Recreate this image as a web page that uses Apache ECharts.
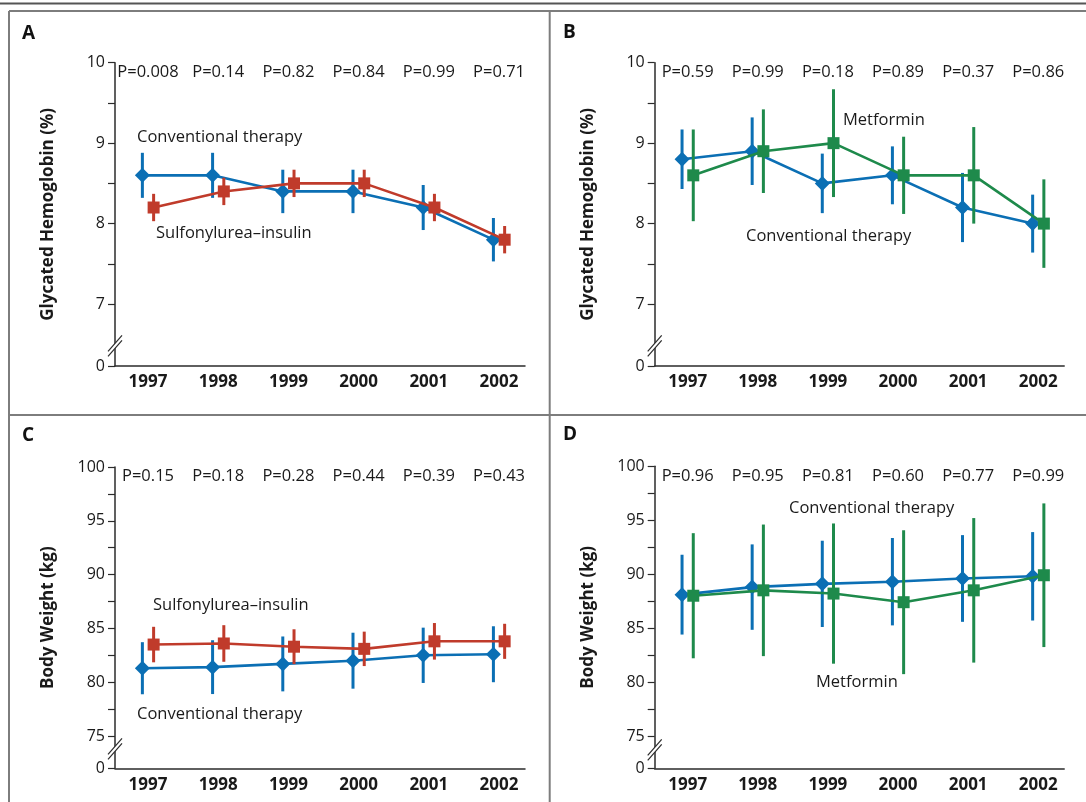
<!DOCTYPE html>
<html>
<head>
<meta charset="utf-8">
<script src="https://cdn.jsdelivr.net/npm/echarts@6/dist/echarts.min.js"></script>
<style>
  html, body { margin: 0; padding: 0; background: #fff; }
  #chart { width: 1086px; height: 802px; }
</style>
</head>
<body>
<div id="chart"></div>
<script>
// data
const years = [1997, 1998, 1999, 2000, 2001, 2002];

const pA = ['P=0.008', 'P=0.14', 'P=0.82', 'P=0.84', 'P=0.99', 'P=0.71'];
const pB = ['P=0.59', 'P=0.99', 'P=0.18', 'P=0.89', 'P=0.37', 'P=0.86'];
const pC = ['P=0.15', 'P=0.18', 'P=0.28', 'P=0.44', 'P=0.39', 'P=0.43'];
const pD = ['P=0.96', 'P=0.95', 'P=0.81', 'P=0.60', 'P=0.77', 'P=0.99'];

// glycated hemoglobin (%) - mean and half-width of bar
const hbA_conv = [8.6, 8.6, 8.4, 8.4, 8.2, 7.8];
const hbA_convErr = [0.28, 0.28, 0.27, 0.27, 0.28, 0.27];
const hbA_su = [8.2, 8.4, 8.5, 8.5, 8.2, 7.8];
const hbA_suErr = [0.17, 0.17, 0.17, 0.17, 0.17, 0.17];

const hbB_conv = [8.8, 8.9, 8.5, 8.6, 8.2, 8.0];
const hbB_convErr = [0.37, 0.42, 0.37, 0.36, 0.43, 0.36];
const hbB_met = [8.6, 8.9, 9.0, 8.6, 8.6, 8.0];
const hbB_metErr = [0.57, 0.52, 0.67, 0.48, 0.6, 0.55];

// body weight (kg)
const wtC_conv = [81.3, 81.4, 81.7, 82.0, 82.5, 82.6];
const wtC_convErr = [2.42, 2.5, 2.55, 2.6, 2.57, 2.6];
const wtC_su = [83.5, 83.6, 83.3, 83.1, 83.8, 83.8];
const wtC_suErr = [1.65, 1.7, 1.62, 1.6, 1.7, 1.63];

const wtD_conv = [88.1, 88.8, 89.1, 89.3, 89.6, 89.8];
const wtD_convErr = [3.7, 3.96, 4.0, 4.05, 4.02, 4.1];
const wtD_met = [88.0, 88.5, 88.2, 87.4, 88.5, 89.9];
const wtD_metErr = [5.8, 6.1, 6.5, 6.67, 6.7, 6.66];

// axis ticks / labels
const hbTicks = [7, 7.5, 8, 8.5, 9, 9.5, 10];
const hbLabels = [7, 8, 9, 10];
const wtTicks = [75, 77.5, 80, 82.5, 85, 87.5, 90, 92.5, 95, 97.5, 100];
const wtLabels = [75, 80, 85, 90, 95, 100];

const BLUE = '#0b6fb4';
const RED = '#c03b2b';
const GREEN = '#1e8a4b';
const FONT = 'Open Sans';
const FRAME = '#7d7d7d';
const X_MIN = 1996.53, X_MAX = 2002.37, OFF = 0.08;

const panels = [
  { letter: 'A', lx: 22, ly: 34,
    grid: { left: 115, top: 62.7, width: 410, height: 303.3 },
    yMin: 6.23, yMax: 10, ticks: hbTicks, labels: hbLabels, brk: 6.48,
    yName: 'Glycated Hemoglobin (%)', p: pA,
    lines: [
      { vals: hbA_conv, err: hbA_convErr, color: BLUE, sym: 'diamond', size: [15, 15], off: -OFF },
      { vals: hbA_su, err: hbA_suErr, color: RED, sym: 'rect', size: [12, 12], off: OFF }
    ],
    notes: [['Conventional therapy', 137, 137], ['Sulfonylurea\u2013insulin', 156, 233]] },
  { letter: 'B', lx: 563, ly: 33,
    grid: { left: 654.7, top: 62.7, width: 409.5, height: 303.3 },
    yMin: 6.23, yMax: 10, ticks: hbTicks, labels: hbLabels, brk: 6.48,
    yName: 'Glycated Hemoglobin (%)', p: pB,
    lines: [
      { vals: hbB_conv, err: hbB_convErr, color: BLUE, sym: 'diamond', size: [15, 15], off: -OFF },
      { vals: hbB_met, err: hbB_metErr, color: GREEN, sym: 'rect', size: [12, 12], off: OFF }
    ],
    notes: [['Metformin', 843, 120], ['Conventional therapy', 746, 236]] },
  { letter: 'C', lx: 22, ly: 436,
    grid: { left: 115, top: 467, width: 410, height: 301.3 },
    yMin: 72, yMax: 100, ticks: wtTicks, labels: wtLabels, brk: 73.8,
    yName: 'Body Weight (kg)', p: pC,
    lines: [
      { vals: wtC_conv, err: wtC_convErr, color: BLUE, sym: 'diamond', size: [15, 15], off: -OFF },
      { vals: wtC_su, err: wtC_suErr, color: RED, sym: 'rect', size: [12, 12], off: OFF }
    ],
    notes: [['Sulfonylurea\u2013insulin', 153, 605], ['Conventional therapy', 137, 714]] },
  { letter: 'D', lx: 563, ly: 435,
    grid: { left: 654.7, top: 466.3, width: 409.5, height: 302 },
    yMin: 72, yMax: 100, ticks: wtTicks, labels: wtLabels, brk: 73.7,
    yName: 'Body Weight (kg)', p: pD,
    lines: [
      { vals: wtD_conv, err: wtD_convErr, color: BLUE, sym: 'diamond', size: [15, 15], off: -OFF },
      { vals: wtD_met, err: wtD_metErr, color: GREEN, sym: 'rect', size: [12, 12], off: OFF }
    ],
    notes: [['Conventional therapy', 789, 508], ['Metformin', 816, 682]] }
];

const grid = [], xAxis = [], yAxis = [], series = [];

panels.forEach((pn, i) => {
  grid.push(pn.grid);
  xAxis.push({
    type: 'value', gridIndex: i, min: X_MIN, max: X_MAX, position: 'bottom',
    axisLine: { onZero: false, lineStyle: { color: '#2b2b2b', width: 1.5 } },
    axisTick: { show: false }, splitLine: { show: false },
    axisLabel: { customValues: years, formatter: v => String(v), margin: 8,
      fontFamily: FONT, fontWeight: 'bold', fontSize: 17, color: '#1a1a1a' }
  });
  xAxis.push({
    type: 'value', gridIndex: i, min: X_MIN, max: X_MAX, position: 'top',
    axisLine: { show: false }, axisTick: { show: false }, splitLine: { show: false },
    axisLabel: { inside: true, margin: 1, customValues: years,
      formatter: v => pn.p[years.indexOf(Math.round(v))],
      fontFamily: FONT, fontSize: 16.5, color: '#1a1a1a' }
  });
  yAxis.push({
    type: 'value', gridIndex: i, min: pn.yMin, max: pn.yMax,
    name: pn.yName, nameLocation: 'middle', nameGap: 58,
    nameTextStyle: { fontFamily: FONT, fontWeight: 'bold', fontSize: 17, color: '#1a1a1a' },
    axisLine: { show: true, onZero: false, lineStyle: { color: '#2b2b2b', width: 1.5 } },
    axisTick: { show: true, length: 7, customValues: [pn.yMin].concat(pn.ticks),
      lineStyle: { color: '#2b2b2b', width: 1.2 } },
    axisLabel: { customValues: [pn.yMin].concat(pn.labels), margin: 10,
      formatter: v => (v === pn.yMin ? '0' : String(v)),
      fontFamily: FONT, fontSize: 16, color: '#1a1a1a' },
    splitLine: { show: false }
  });

  pn.lines.forEach((ln, k) => {
    series.push({
      type: 'custom', xAxisIndex: 2 * i, yAxisIndex: i, z: 2 + k * 2, silent: true,
      data: years.map((yr, j) => [yr + ln.off, ln.vals[j] - ln.err[j], ln.vals[j] + ln.err[j]]),
      renderItem: (params, api) => {
        const lo = api.coord([api.value(0), api.value(1)]);
        const hi = api.coord([api.value(0), api.value(2)]);
        return { type: 'line', shape: { x1: lo[0], y1: lo[1], x2: hi[0], y2: hi[1] },
          style: { stroke: ln.color, lineWidth: 3 } };
      }
    });
    series.push({
      type: 'line', xAxisIndex: 2 * i, yAxisIndex: i, z: 3 + k * 2,
      data: years.map((yr, j) => [yr + ln.off, ln.vals[j]]),
      symbol: ln.sym, symbolSize: ln.size, showAllSymbol: true,
      itemStyle: { color: ln.color, opacity: 1 },
      lineStyle: { color: ln.color, width: 2.6 },
      animation: false
    });
  });
});

const chart = echarts.init(document.getElementById('chart'), null, { renderer: 'canvas' });
chart.setOption({
  animation: false,
  backgroundColor: '#fff',
  grid, xAxis, yAxis, series
});

// frames, letters, series notes, axis break marks
const gfx = [
  { type: 'line', shape: { x1: 0, y1: 3.5, x2: 1086, y2: 3.5 }, style: { stroke: '#555', lineWidth: 2 } },
  { type: 'line', shape: { x1: 9, y1: 11, x2: 1086, y2: 11 }, style: { stroke: FRAME, lineWidth: 2 } },
  { type: 'line', shape: { x1: 9, y1: 11, x2: 9, y2: 802 }, style: { stroke: FRAME, lineWidth: 2 } },
  { type: 'line', shape: { x1: 549.7, y1: 11, x2: 549.7, y2: 802 }, style: { stroke: FRAME, lineWidth: 2 } },
  { type: 'line', shape: { x1: 9, y1: 415, x2: 1086, y2: 415 }, style: { stroke: FRAME, lineWidth: 2 } }
];
panels.forEach((pn, i) => {
  gfx.push({ type: 'text', x: pn.lx, y: pn.ly, style: { text: pn.letter, font: 'bold 19px "' + FONT + '"',
    fill: '#111', verticalAlign: 'middle' } });
  pn.notes.forEach(n => {
    gfx.push({ type: 'text', x: n[1], y: n[2], style: { text: n[0], font: '16.5px "' + FONT + '"',
      fill: '#1a1a1a', verticalAlign: 'middle' } });
  });
  const c = chart.convertToPixel({ xAxisIndex: 2 * i, yAxisIndex: i }, [X_MIN, pn.brk]);
  const cx = c[0], cy = c[1];
  gfx.push({ type: 'polygon', z: 100, shape: { points: [[cx - 7, cy + 5.5], [cx + 7, cy - 10.5], [cx + 7, cy - 5.5], [cx - 7, cy + 10.5]] },
    style: { fill: '#fff' } });
  gfx.push({ type: 'line', z: 101, shape: { x1: cx - 7, y1: cy + 5.5, x2: cx + 7, y2: cy - 10.5 }, style: { stroke: '#2b2b2b', lineWidth: 1.2 } });
  gfx.push({ type: 'line', z: 101, shape: { x1: cx - 7, y1: cy + 10.5, x2: cx + 7, y2: cy - 5.5 }, style: { stroke: '#2b2b2b', lineWidth: 1.2 } });
});
chart.setOption({ graphic: gfx });
</script>
</body>
</html>
